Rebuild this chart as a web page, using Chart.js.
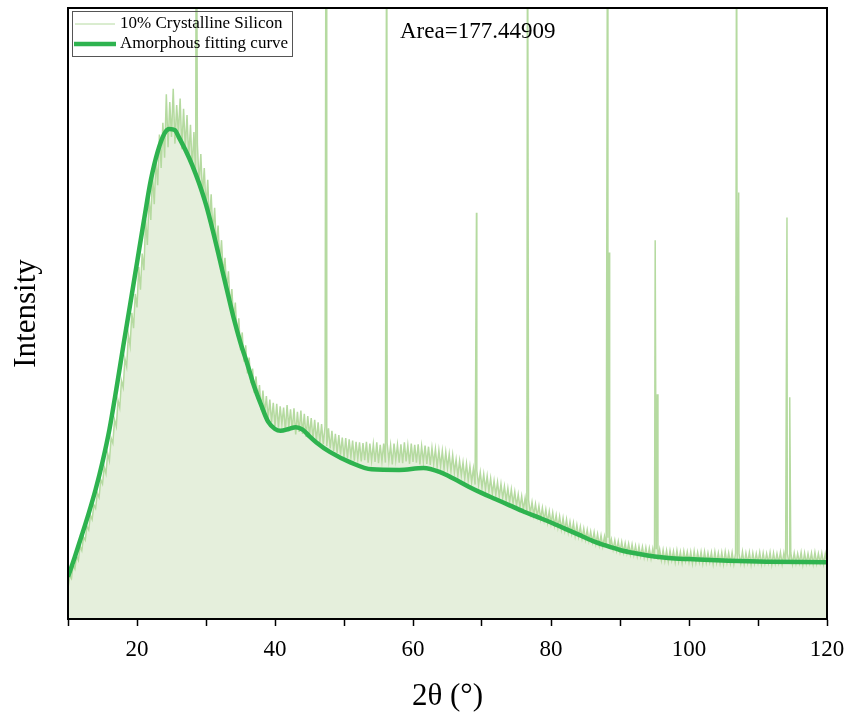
<!DOCTYPE html>
<html>
<head>
<meta charset="utf-8">
<script src="https://cdn.jsdelivr.net/npm/chart.js@4.4.1/dist/chart.umd.min.js"></script>
<style>
  html, body { margin: 0; padding: 0; background: #fff; }
  #wrap { width: 850px; height: 718px; }
</style>
</head>
<body>
<div id="wrap"><canvas id="chartCanvas" width="850" height="718"></canvas></div>
<script>

// measured pattern, 2θ from 10° in 0.25° steps (one row per degree)
const thetaStart = 10;
const thetaStep = 0.25;
const intensity = [
    5.1, 7.0, 6.6, 8.9,
    8.2, 10.3, 9.6, 11.9,
    11.2, 13.4, 12.9, 15.2,
    14.6, 17.0, 16.3, 18.7,
    18.1, 20.6, 19.9, 22.8,
    22.1, 24.9, 23.8, 27.1,
    25.9, 29.6, 28.8, 32.6,
    31.5, 35.8, 34.6, 39.0,
    37.9, 42.6, 41.3, 46.5,
    44.7, 50.1, 47.6, 53.2,
    51.0, 57.6, 53.9, 59.8,   // 20
    57.1, 65.4, 61.2, 68.9,
    65.3, 72.8, 67.9, 75.2,
    71.0, 79.3, 73.8, 81.2,
    75.5, 85.9, 77.2, 84.6,
    78.9, 86.8, 77.8, 84.1,
    79.4, 85.2, 76.9, 83.5,
    77.1, 82.5, 75.3, 80.9,
    73.6, 79.7, 72.4, 77.8,
    71.2, 76.1, 69.3, 73.8,
    67.2, 71.9, 65.0, 69.5,   // 30
    63.1, 67.3, 60.9, 64.4,
    58.2, 62.0, 56.4, 59.1,
    53.8, 56.9, 51.2, 54.0,
    48.8, 51.8, 46.3, 49.2,
    44.0, 46.9, 42.1, 44.8,
    40.2, 42.8, 38.6, 41.0,
    37.0, 39.7, 35.8, 38.3,
    34.2, 37.4, 33.6, 36.5,
    32.8, 35.9, 32.2, 35.4,
    31.6, 35.2, 31.3, 34.8,   // 40
    31.9, 34.6, 30.8, 35.0,
    31.4, 34.3, 30.9, 34.5,
    30.2, 33.9, 30.6, 34.1,
    30.3, 33.6, 29.8, 33.2,
    30.0, 32.9, 29.5, 32.6,
    29.1, 32.2, 28.8, 31.9,
    28.6, 31.5, 28.3, 31.2,
    27.9, 30.8, 27.5, 30.3,
    27.2, 30.1, 26.9, 29.7,
    26.4, 29.6, 26.3, 29.4,   // 50
    26.5, 29.2, 25.9, 29.0,
    26.2, 28.9, 25.8, 28.8,
    26.0, 29.0, 25.6, 28.7,
    25.9, 28.6, 25.7, 28.9,
    25.5, 28.5, 25.8, 28.7,
    25.6, 28.8, 25.9, 28.4,
    25.3, 28.7, 26.0, 28.5,
    25.6, 28.6, 25.5, 28.9,
    25.8, 28.4, 25.4, 28.7,
    25.7, 28.5, 25.6, 28.6,   // 60
    25.3, 28.3, 25.7, 28.4,
    25.4, 28.2, 25.2, 28.0,
    25.4, 27.8, 24.9, 27.6,
    25.0, 27.5, 24.6, 27.3,
    24.7, 27.0, 24.2, 26.8,
    24.0, 26.1, 23.4, 25.9,
    23.5, 25.6, 23.0, 25.4,
    22.7, 25.0, 22.4, 24.6,
    22.0, 24.3, 21.9, 24.0,
    21.5, 23.7, 21.2, 23.4,   // 70
    20.9, 23.0, 20.5, 22.6,
    20.3, 22.4, 20.0, 22.1,
    19.8, 21.7, 19.4, 21.4,
    19.1, 21.2, 18.9, 20.8,
    18.5, 20.4, 18.2, 20.1,
    17.9, 19.8, 17.6, 19.5,
    17.3, 19.1, 17.0, 18.8,
    16.8, 18.5, 16.4, 18.2,
    16.2, 17.9, 15.8, 17.6,
    15.6, 17.4, 15.3, 17.0,   // 80
    15.0, 16.8, 14.7, 16.5,
    14.5, 16.3, 14.2, 15.9,
    14.0, 15.7, 13.6, 15.4,
    13.5, 15.1, 13.2, 14.8,
    13.0, 14.6, 12.8, 14.3,
    12.6, 14.2, 12.3, 13.9,
    12.1, 13.7, 11.9, 13.5,
    11.8, 13.3, 11.6, 13.0,
    11.4, 12.9, 11.2, 12.7,
    11.0, 12.6, 10.9, 12.4,   // 90
    10.8, 12.3, 10.6, 12.2,
    10.5, 12.0, 10.3, 11.9,
    10.3, 11.8, 10.1, 11.7,
    10.0, 11.6, 9.9, 11.5,
    9.8, 11.4, 9.7, 11.4,
    9.6, 11.3, 9.5, 11.2,
    9.4, 11.2, 9.6, 11.1,
    9.3, 11.2, 9.4, 11.0,
    9.2, 11.1, 9.5, 11.0,
    9.3, 11.0, 9.1, 11.1,     // 100
    9.2, 10.9, 9.3, 11.0,
    9.1, 11.0, 9.2, 10.8,
    9.3, 10.9, 9.0, 11.0,
    9.2, 10.8, 9.1, 10.9,
    9.0, 11.0, 9.2, 10.8,
    9.1, 10.9, 9.0, 10.8,
    9.2, 10.7, 9.1, 11.0,
    9.0, 10.8, 9.2, 10.9,
    8.9, 10.8, 9.1, 10.7,
    9.2, 10.9, 9.0, 10.8,     // 110
    9.1, 10.7, 9.2, 10.9,
    8.9, 10.8, 9.1, 10.7,
    9.2, 10.9, 9.0, 10.8,
    9.1, 10.7, 9.2, 10.9,
    9.0, 10.8, 9.1, 10.7,
    9.2, 10.9, 8.9, 10.8,
    9.1, 10.7, 9.2, 10.8,
    9.0, 10.9, 9.1, 10.7,
    9.2, 10.8, 9.0, 10.7,
    9.1                       // 120
];

// sharp crystalline Si reflections (tops above 100 run off the frame)
const peakPos = [28.6, 47.4, 56.2, 69.2, 76.6, 88.2, 88.45, 95.1, 95.4, 106.9, 107.2, 114.2, 114.6];
const peakTop = [130, 130, 130, 66.5, 130, 130, 60, 62, 36.8, 130, 69.8, 65.7, 36.3];

// amorphous fitting curve
const fitX = [10, 11, 12, 13, 14, 15, 16, 17, 18, 19, 20, 21, 22, 23, 24, 24.7, 25.5, 26, 27, 28, 29,
    30, 31, 32, 33, 34, 35, 36, 37, 38, 39, 40, 40.8, 42, 43, 44, 45, 46, 48, 51, 54,
    58, 61.5, 64, 66, 68, 70, 72, 74, 76, 78, 80, 82, 84, 86, 88, 90, 92, 94, 96, 98,
    100, 104, 110, 120];
const fitY = [6.9, 10.2, 13.7, 17.3, 21.2, 25.7, 31.0, 37.6, 44.6, 51.4, 58.3, 65.2, 71.8, 76.5, 79.5, 80.2, 80.0, 79.0, 76.8, 74.3, 71.3,
    67.8, 63.5, 58.8, 54.0, 49.3, 45.2, 41.7, 38.0, 35.0, 32.3, 31.1, 30.8, 31.1, 31.4, 31.0, 29.9, 28.9, 27.3, 25.6, 24.5,
    24.4, 24.7, 24.0, 22.9, 21.7, 20.6, 19.6, 18.6, 17.6, 16.7, 15.8, 14.8, 13.8, 12.8, 12.0, 11.3, 10.8, 10.4, 10.1, 9.9,
    9.8, 9.6, 9.4, 9.3];

const xTicksShown = [20, 40, 60, 80, 100, 120];
const seriesNames = ["10% Crystalline Silicon", "Amorphous fitting curve"];
const areaText = "Area=177.44909";

const dataColor = "#b5daa0";
const fillColor = "#e5efdc";
const fitColor = "#2eb34f";
const serif = "'Liberation Serif', 'Times New Roman', serif";

const pattern = intensity.map((v, i) => ({ x: thetaStart + i * thetaStep, y: v }));
peakPos.forEach((p, i) => pattern.push({ x: p, y: peakTop[i] }));
pattern.sort((a, b) => a.x - b.x);

const fitPoints = fitX.map((x, i) => ({ x, y: fitY[i] }));

const framePlugin = {
    id: "frame",
    afterDraw(chart) {
        const { ctx, chartArea: a } = chart;
        ctx.save();
        ctx.strokeStyle = "#000";
        ctx.lineWidth = 2;
        ctx.strokeRect(a.left, a.top, a.right - a.left, a.bottom - a.top);

        // legend box
        ctx.lineWidth = 1;
        ctx.strokeStyle = "#555";
        ctx.strokeRect(72.5, 11.5, 220, 45);

        ctx.strokeStyle = dataColor;
        ctx.lineWidth = 1;
        ctx.beginPath();
        ctx.moveTo(75, 24);
        ctx.lineTo(115, 24);
        ctx.stroke();

        ctx.strokeStyle = fitColor;
        ctx.lineWidth = 4.5;
        ctx.beginPath();
        ctx.moveTo(74, 44);
        ctx.lineTo(116, 44);
        ctx.stroke();

        ctx.fillStyle = "#000";
        ctx.font = "17px " + serif;
        ctx.textBaseline = "middle";
        ctx.textAlign = "left";
        ctx.fillText(seriesNames[0], 120, 24);
        ctx.fillText(seriesNames[1], 120, 44);

        ctx.font = "23px " + serif;
        ctx.fillText(areaText, 400, 32);
        ctx.restore();
    }
};

const ctx = document.getElementById("chartCanvas").getContext("2d");

new Chart(ctx, {
    type: "line",
    data: {
        datasets: [
            {
                label: seriesNames[0],
                data: pattern,
                borderColor: dataColor,
                borderWidth: 1.5,
                backgroundColor: fillColor,
                fill: "origin",
                pointRadius: 0,
                tension: 0,
                order: 2
            },
            {
                label: seriesNames[1],
                data: fitPoints,
                borderColor: fitColor,
                borderWidth: 4.5,
                fill: false,
                pointRadius: 0,
                cubicInterpolationMode: "monotone",
                order: 1
            }
        ]
    },
    options: {
        responsive: false,
        animation: false,
        layout: {
            padding: { top: 8, right: 23, left: 0, bottom: 0 }
        },
        plugins: {
            legend: { display: false },
            tooltip: { enabled: false }
        },
        scales: {
            x: {
                type: "linear",
                min: 10,
                max: 120,
                afterFit: s => {
                    s.height = 99;
                    s.paddingLeft = 0;
                    s.paddingRight = 0;
                },
                grid: {
                    drawOnChartArea: false,
                    drawTicks: true,
                    tickLength: 7,
                    tickColor: "#000",
                    tickWidth: 1.5
                },
                border: { display: true, color: "#000", width: 2 },
                ticks: {
                    stepSize: 10,
                    maxRotation: 0,
                    autoSkip: false,
                    padding: 10,
                    color: "#000",
                    font: { family: serif, size: 23 },
                    callback: v => xTicksShown.includes(v) ? v : ""
                },
                title: {
                    display: true,
                    text: "2θ (°)",
                    color: "#000",
                    font: { family: serif, size: 31 },
                    padding: { top: 0, bottom: 3 }
                }
            },
            y: {
                min: 0,
                max: 100,
                afterFit: s => { s.width = 68; },
                grid: { display: false },
                border: { display: false },
                ticks: { display: false },
                title: {
                    display: true,
                    text: "Intensity",
                    color: "#000",
                    font: { family: serif, size: 31 },
                    padding: { top: 8, bottom: 0 }
                }
            }
        }
    },
    plugins: [framePlugin]
});

</script>
</body>
</html>
